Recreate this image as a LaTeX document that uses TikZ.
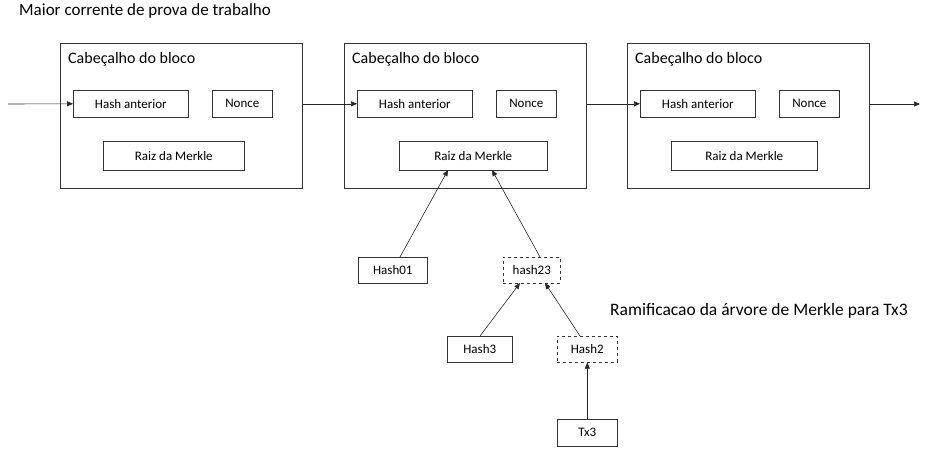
\documentclass[tikz,border=0pt]{standalone}
\usepackage{fontspec}
\setmainfont{Carlito}
\usetikzlibrary{arrows.meta}
\begin{document}
\begin{tikzpicture}[x=1pt,y=-1pt,
  box/.style={draw=black!80,line width=0.6pt,minimum height=27pt,inner sep=0pt,font=\fontsize{13}{15}\selectfont},
  dbox/.style={box,dashed},
  blk/.style={draw=black!80,line width=0.6pt,inner sep=0pt},
  arr/.style={-{Triangle[length=6pt,width=5pt]},line width=0.6pt,draw=black!85},
  lbl/.style={anchor=west,inner sep=0pt,font=\fontsize{16}{18}\selectfont}]
\useasboundingbox (0,0) rectangle (931,452);
\node[lbl,font=\fontsize{17}{19}\selectfont] (title) at (19,11) {Maior corrente de prova de trabalho};
\foreach \i/\x in {1/60,2/344,3/627}{
  \node[blk,minimum width=242pt,minimum height=145pt,anchor=north west] (b\i) at (\x,43) {};
  \node[lbl] (c\i) at (\x+8,59) {Cabeçalho do bloco};
  \node[box,minimum width=115pt,anchor=north west] (h\i) at (\x+13,90) {Hash anterior};
  \node[box,minimum width=60pt,anchor=north west] (n\i) at (\x+152,90) {Nonce};
}
\node[box,minimum width=141pt,minimum height=29pt,anchor=north west] (r1) at (103,141) {Raiz da Merkle};
\node[box,minimum width=148pt,minimum height=29pt,anchor=north west] (r2) at (399,141) {Raiz da Merkle};
\node[box,minimum width=146pt,minimum height=29pt,anchor=north west] (r3) at (671,141) {Raiz da Merkle};
\coordinate (start) at (8,104);
\coordinate (end) at (920,104);
\draw[arr] (start) -- (h1.west);
\draw[arr] (b1.east |- h2.west) -- (h2.west);
\draw[arr] (b2.east |- h3.west) -- (h3.west);
\draw[arr] (b3.east |- end) -- (end);
\node[box,minimum width=69pt,minimum height=26pt,anchor=north west] (h01) at (358,257) {Hash01};
\node[dbox,minimum width=57pt,minimum height=26pt,anchor=north west] (h23) at (503,257) {hash23};
\node[box,minimum width=65pt,minimum height=26pt,anchor=north west] (hs3) at (447,336) {Hash3};
\node[dbox,minimum width=60pt,minimum height=26pt,anchor=north west] (hs2) at (557,336) {Hash2};
\node[box,minimum width=60pt,minimum height=27pt,anchor=north west] (tx3) at (557,419) {Tx3};
\node[lbl,font=\fontsize{17.5}{19}\selectfont] (ram) at (610,311) {Ramificacao da árvore de Merkle para Tx3};
\draw[arr] (400,257) -- (448,170);
\draw[arr] (540,257) -- (492,170);
\draw[arr] (480,336) -- (520,283);
\draw[arr] (580,336) -- (545,283);
\draw[arr] (tx3.north) -- (hs2.south);
\end{tikzpicture}
\end{document}
